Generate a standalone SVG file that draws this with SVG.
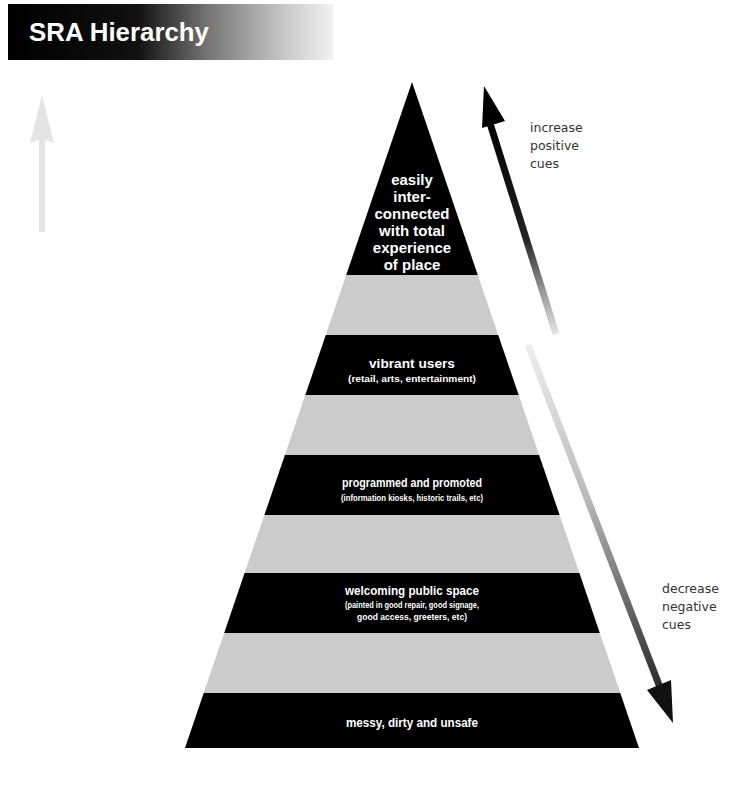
<svg xmlns="http://www.w3.org/2000/svg" width="740" height="799" viewBox="0 0 740 799">
<defs>
<linearGradient id="titleGrad" x1="0" y1="0" x2="1" y2="0">
<stop offset="0" stop-color="#000"/>
<stop offset="0.4" stop-color="#111"/>
<stop offset="0.62" stop-color="#777"/>
<stop offset="0.85" stop-color="#c8c8c8"/>
<stop offset="1" stop-color="#f2f2f2"/>
</linearGradient>
<linearGradient id="upGrad" gradientUnits="userSpaceOnUse" x1="490" y1="120" x2="556" y2="335">
<stop offset="0" stop-color="#000"/>
<stop offset="0.55" stop-color="#222"/>
<stop offset="0.8" stop-color="#999"/>
<stop offset="1" stop-color="#e6e6e6"/>
</linearGradient>
<linearGradient id="downGrad" gradientUnits="userSpaceOnUse" x1="528" y1="345" x2="673" y2="723">
<stop offset="0" stop-color="#eeeeee"/>
<stop offset="0.4" stop-color="#bbbbbb"/>
<stop offset="0.75" stop-color="#555"/>
<stop offset="1" stop-color="#111"/>
</linearGradient>
<style>
.blk{fill:#000}
.gry{fill:#cbcbcb}
.lbl{font-family:"Liberation Sans",Arial,sans-serif;font-weight:bold;fill:#fff;text-anchor:middle}
.big{font-size:15px}
.mid{font-size:13.5px}
.sm{font-size:9.5px}
.side{font-family:"DejaVu Sans","Liberation Sans",sans-serif;font-size:12.5px;fill:#333}
</style>
</defs>
<rect width="740" height="799" fill="#fff"/>

<g id="title">
<rect x="8" y="4" width="325" height="56" fill="url(#titleGrad)"/>
<text x="29" y="41" font-family="Liberation Sans,Arial,sans-serif" font-weight="bold" font-size="25" fill="#fff" textLength="180" lengthAdjust="spacingAndGlyphs">SRA Hierarchy</text>
</g>

<g id="left-arrow">
<path d="M42,95 L54,143 L45,140 L45,232 L39,232 L39,140 L30,143 Z" fill="#e4e4e4"/>
</g>

<g id="pyramid">
<g id="level-top"><polygon class="blk" points="412,82 477.8,275 346.2,275"/>
<text class="lbl big" x="412" y="185">easily</text>
<text class="lbl big" x="412" y="202">inter-</text>
<text class="lbl big" x="412" y="219">connected</text>
<text class="lbl big" x="412" y="236">with total</text>
<text class="lbl big" x="412" y="253">experience</text>
<text class="lbl big" x="412" y="270">of place</text>
</g>
<g id="band-gray-1"><polygon class="gry" points="346.2,275 477.8,275 498.2,335 325.8,335"/></g>
<g id="level-vibrant"><polygon class="blk" points="325.8,335 498.2,335 518.7,395 305.3,395"/>
<text class="lbl mid" x="412" y="368" textLength="86" lengthAdjust="spacingAndGlyphs">vibrant users</text>
<text class="lbl sm" x="412" y="382" textLength="128" lengthAdjust="spacingAndGlyphs">(retail, arts, entertainment)</text>
</g>
<g id="band-gray-2"><polygon class="gry" points="305.3,395 518.7,395 539.1,455 284.9,455"/></g>
<g id="level-programmed"><polygon class="blk" points="284.9,455 539.1,455 559.6,515 264.4,515"/>
<text class="lbl mid" x="412" y="487" textLength="140" lengthAdjust="spacingAndGlyphs">programmed and promoted</text>
<text class="lbl sm" x="412" y="501" textLength="142" lengthAdjust="spacingAndGlyphs">(information kiosks, historic trails, etc)</text>
</g>
<g id="band-gray-3"><polygon class="gry" points="264.4,515 559.6,515 579.4,573 244.6,573"/></g>
<g id="level-welcoming"><polygon class="blk" points="244.6,573 579.4,573 599.8,633 224.2,633"/>
<text class="lbl mid" x="412" y="595" textLength="134" lengthAdjust="spacingAndGlyphs">welcoming public space</text>
<text class="lbl sm" x="412" y="608" textLength="134" lengthAdjust="spacingAndGlyphs">(painted in good repair, good signage,</text>
<text class="lbl sm" x="412" y="620" textLength="110" lengthAdjust="spacingAndGlyphs">good access, greeters, etc)</text>
</g>
<g id="band-gray-4"><polygon class="gry" points="224.2,633 599.8,633 620.3,693 203.7,693"/></g>
<g id="level-messy"><polygon class="blk" points="203.7,693 620.3,693 639,748 185,748"/>
<text class="lbl mid" x="412" y="727" textLength="132" lengthAdjust="spacingAndGlyphs">messy, dirty and unsafe</text>
</g>
</g>

<g id="connectors">
<g id="arrow-increase">
<path d="M490.5,125 L556,334" stroke="url(#upGrad)" stroke-width="7" fill="none"/>
<polygon points="484,86 505,121 482,128" fill="#000"/>
</g>
<g id="arrow-decrease">
<path d="M528,345 L661,690" stroke="url(#downGrad)" stroke-width="7" fill="none"/>
<polygon points="673,723 647,690 671,680" fill="#111"/>
</g>
</g>

<g id="side-labels">
<text class="side" x="530" y="132">increase</text>
<text class="side" x="530" y="150">positive</text>
<text class="side" x="530" y="168">cues</text>
<text class="side" x="662" y="593">decrease</text>
<text class="side" x="662" y="611">negative</text>
<text class="side" x="662" y="629">cues</text>
</g>
</svg>
